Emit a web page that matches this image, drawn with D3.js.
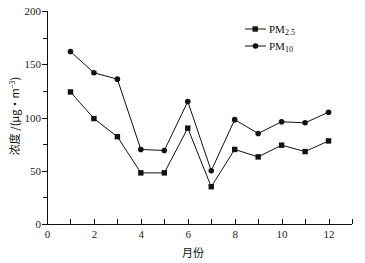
<!DOCTYPE html>
<html lang="zh">
<head>
<meta charset="UTF-8">
<title>PM2.5 / PM10 月均浓度</title>
<script src="https://d3js.org/d3.v7.min.js"></script>
<style>
  body { margin: 0; background: #fff; }
  svg { display: block; }
  .axis path, .axis line { stroke: #111; shape-rendering: crispEdges; }
  .axis text { font-family: "Liberation Serif", serif; font-size: 11px; fill: #222; }
  .series { fill: none; stroke: #111; stroke-width: 1; }
  .legend text { font-family: "Liberation Serif", serif; font-size: 11px; fill: #111; }
  .label { font-family: "Noto Sans CJK SC", sans-serif; font-size: 11px; fill: #111; }
</style>
</head>
<body>
<script>
const months = [1, 2, 3, 4, 5, 6, 7, 8, 9, 10, 11, 12];
const pm25 = [124, 99, 82, 48, 48, 90, 35, 70, 63, 74, 68, 78];
const pm10 = [162, 142, 136, 70, 69, 115, 50, 98, 85, 96, 95, 105];
const xTicks = [0, 2, 4, 6, 8, 10, 12];
const yTicks = [0, 50, 100, 150, 200];

const width = 365, height = 263;
const margin = { top: 11, right: 13, bottom: 39, left: 47 };
const iw = width - margin.left - margin.right;
const ih = height - margin.top - margin.bottom;

const svg = d3.select("body").append("svg")
  .attr("width", width)
  .attr("height", height);

const g = svg.append("g")
  .attr("transform", `translate(${margin.left},${margin.top})`);

const x = d3.scaleLinear().domain([0, 13]).range([0, iw]);
const y = d3.scaleLinear().domain([0, 200]).range([ih, 0]);

// minor ticks
g.append("g")
  .attr("class", "axis")
  .attr("transform", `translate(0,${ih})`)
  .call(d3.axisBottom(x).tickValues(d3.range(0, 14)).tickSize(-5).tickFormat(""))
  .call(a => a.select(".domain").remove());

g.append("g")
  .attr("class", "axis")
  .call(d3.axisLeft(y).tickValues(d3.range(0, 201, 25)).tickSize(4).tickFormat(""))
  .call(a => a.select(".domain").remove());

// major axes
g.append("g")
  .attr("class", "axis")
  .attr("transform", `translate(0,${ih})`)
  .call(d3.axisBottom(x).tickValues(xTicks).tickSize(-5).tickPadding(6))
  .call(a => a.select(".domain").attr("d", `M0,0H${iw}`));

g.append("g")
  .attr("class", "axis")
  .call(d3.axisLeft(y).tickValues(yTicks).tickSize(5).tickPadding(1))
  .call(a => a.select(".domain").attr("d", `M0,0V${ih}`));

const line = d3.line().x((d, i) => x(months[i])).y(d => y(d));

g.append("path").datum(pm10).attr("class", "series").attr("d", line);
g.append("path").datum(pm25).attr("class", "series").attr("d", line);

g.selectAll(".c10").data(pm10).enter().append("circle")
  .attr("cx", (d, i) => x(months[i]))
  .attr("cy", d => y(d))
  .attr("r", 2.8)
  .attr("fill", "#111");

g.selectAll(".s25").data(pm25).enter().append("rect")
  .attr("x", (d, i) => x(months[i]) - 2.7)
  .attr("y", d => y(d) - 2.7)
  .attr("width", 5.4)
  .attr("height", 5.4)
  .attr("fill", "#111");

// legend
const legend = svg.append("g").attr("class", "legend");
const items = [
  { name: "PM", sub: "2.5", shape: "square", y: 29 },
  { name: "PM", sub: "10", shape: "circle", y: 46 }
];
items.forEach(it => {
  legend.append("line")
    .attr("x1", 245).attr("x2", 266)
    .attr("y1", it.y).attr("y2", it.y)
    .attr("stroke", "#111");
  if (it.shape === "square") {
    legend.append("rect").attr("x", 252.5).attr("y", it.y - 2.7)
      .attr("width", 5.4).attr("height", 5.4).attr("fill", "#111");
  } else {
    legend.append("circle").attr("cx", 255.5).attr("cy", it.y)
      .attr("r", 2.8).attr("fill", "#111");
  }
  const t = legend.append("text").attr("x", 269).attr("y", it.y + 4);
  t.append("tspan").text(it.name);
  t.append("tspan").attr("dy", 2).attr("font-size", "8px").text(it.sub);
});

// axis titles
svg.append("text")
  .attr("class", "label")
  .attr("text-anchor", "middle")
  .attr("x", 193)
  .attr("y", 257)
  .text("月份");

const yl = svg.append("text")
  .attr("class", "label")
  .attr("text-anchor", "middle")
  .attr("transform", "translate(19,116) rotate(-90)");
yl.append("tspan").text("浓度 /(μg·m");
yl.append("tspan").attr("dy", -4).attr("font-size", "7px").text("−3");
yl.append("tspan").attr("dy", 4).text(")");
</script>
</body>
</html>
